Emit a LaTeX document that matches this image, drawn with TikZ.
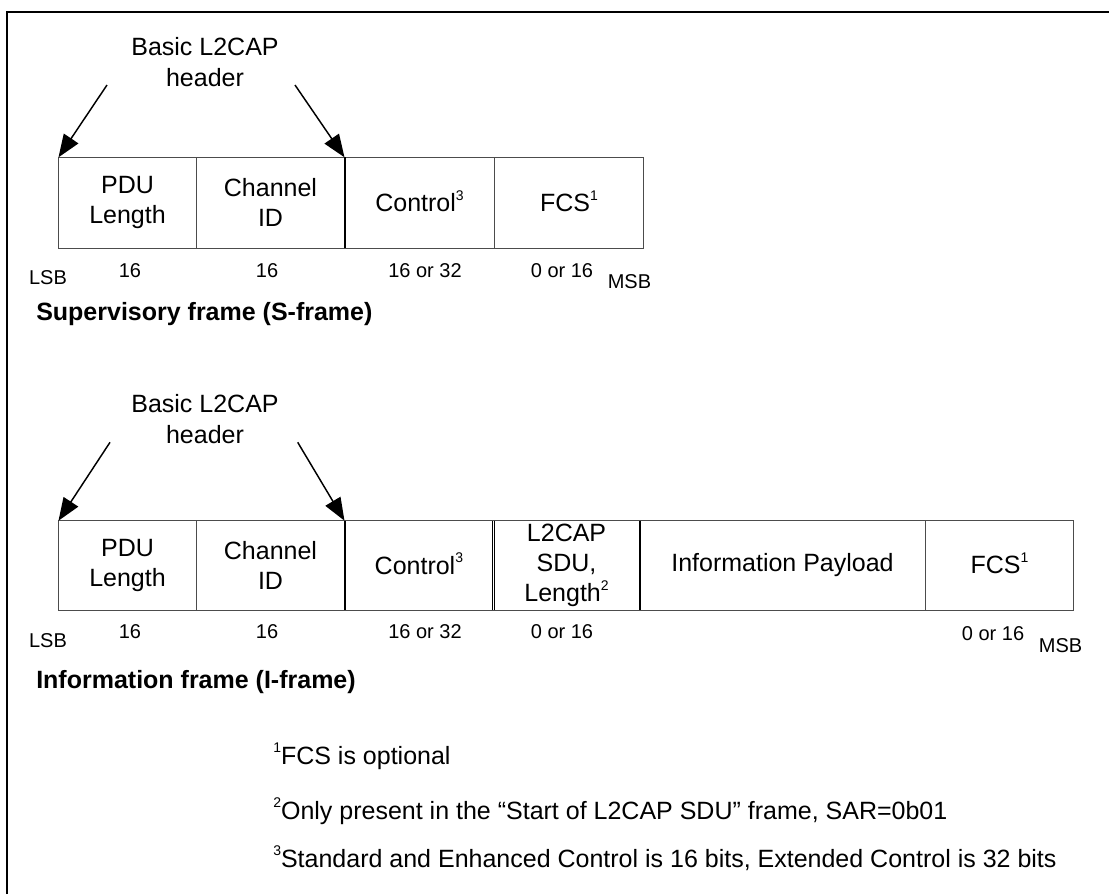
\documentclass[tikz,border=0pt]{standalone}
\usepackage{fontspec}
\setmainfont{Liberation Sans}
\usetikzlibrary{positioning, arrows.meta}
\newcommand{\fnmark}[1]{\smash{\raisebox{8.5pt}{\fontsize{10.5}{12}\selectfont #1}}}
\tikzset{
    field/.style={rectangle, draw=black!70, line width=0.75pt, inner sep=0pt, outer sep=0pt, minimum height=68.25pt, align=center, font=\fontsize{18.75}{22.5}\selectfont},
    bitlabel/.style={anchor=base, inner sep=0pt, font=\fontsize{15}{18}\selectfont},
    hdrlabel/.style={align=center, inner sep=0pt, font=\fontsize{18.75}{23.25}\selectfont},
    frametitle/.style={anchor=base west, inner sep=0pt, font=\bfseries\fontsize{18.75}{22.5}\selectfont},
    fnote/.style={anchor=base west, inner sep=0pt, font=\fontsize{18.75}{22.5}\selectfont},
    hdrarrow/.style={-{Triangle[length=17pt, width=13pt]}, line width=1.1pt},
    sepline/.style={line width=1.5pt},
}

\begin{document}
\begin{tikzpicture}[x=0.75pt, y=-0.75pt]
    \useasboundingbox (0,0) rectangle (1109,894);
    % Cornice
    \draw[line width=1.5pt] (7.3,894) -- (7.3,11.7) -- (1109,11.7);

    % S-frame
    \node[field, minimum width=103.5pt, anchor=north west] (spdu) at (58.5,157.3) {PDU\\Length};
    \node[field, minimum width=111pt, right=0pt of spdu] (scid) {Channel\\ID};
    \node[field, minimum width=112.5pt, right=0pt of scid] (sctl) {Control\fnmark{3}};
    \node[field, minimum width=111.75pt, right=0pt of sctl] (sfcs) {FCS\fnmark{1}};
    \draw[sepline] (sctl.north west) -- (sctl.south west);

    \node[hdrlabel] (shdr) at (205,62) {Basic L2CAP\\header};
    \coordinate (sa1) at (107,85);
    \coordinate (sa2) at (295,85);
    \draw[hdrarrow] (sa1) -- (spdu.north west);
    \draw[hdrarrow] (sa2) -- (sctl.north west);

    \node[bitlabel] (slsb) at (48,284) {LSB};
    \node[bitlabel] (sb1) at (130,277) {16};
    \node[bitlabel] (sb2) at (267,277) {16};
    \node[bitlabel] (sb3) at (425,277) {16 or 32};
    \node[bitlabel] (sb4) at (562,277) {0 or 16};
    \node[bitlabel] (smsb) at (629.5,288) {MSB};
    \node[frametitle] (stitle) at (36,320) {Supervisory frame (S-frame)};

    % I-frame
    \node[field, minimum height=67pt, minimum width=103.5pt, anchor=north west] (ipdu) at (58.5,520.7) {PDU\\Length};
    \node[field, minimum height=67pt, minimum width=111pt, right=0pt of ipdu] (icid) {Channel\\ID};
    \node[field, minimum height=67pt, minimum width=111.6pt, right=0pt of icid] (ictl) {Control\fnmark{3}};
    \node[field, minimum height=67pt, minimum width=109.9pt, right=0pt of ictl] (isdu) {L2CAP\\SDU,\\Length\fnmark{2}};
    \node[field, minimum height=67pt, minimum width=214pt, right=0pt of isdu] (ipay) {Information Payload};
    \node[field, minimum height=67pt, minimum width=111.5pt, right=0pt of ipay] (ifcs) {FCS\fnmark{1}};
    \draw[sepline] (ictl.north west) -- (ictl.south west);
    \draw[sepline] (ipay.north west) -- (ipay.south west);
    \draw[double, double distance=1.2pt, line width=0.6pt] (isdu.north west) -- (isdu.south west);

    \node[hdrlabel] (ihdr) at (205,419) {Basic L2CAP\\header};
    \coordinate (ia1) at (110,442.3);
    \coordinate (ia2) at (297.7,442.3);
    \draw[hdrarrow] (ia1) -- (ipdu.north west);
    \draw[hdrarrow] (ia2) -- (ictl.north west);

    \node[bitlabel] (ilsb) at (48,647) {LSB};
    \node[bitlabel] (ib1) at (130,638) {16};
    \node[bitlabel] (ib2) at (267,638) {16};
    \node[bitlabel] (ib3) at (425,638) {16 or 32};
    \node[bitlabel] (ib4) at (562,638) {0 or 16};
    \node[bitlabel] (ib5) at (993,640) {0 or 16};
    \node[bitlabel] (imsb) at (1060.5,652) {MSB};
    \node[frametitle] (ititle) at (36,688) {Information frame (I-frame)};

    % Note
    \node[fnote] (fn1) at (273,764) {\fnmark{1}FCS is optional};
    \node[fnote] (fn2) at (273,819) {\fnmark{2}Only present in the “Start of L2CAP SDU” frame, SAR=0b01};
    \node[fnote] (fn3) at (273,867) {\fnmark{3}Standard and Enhanced Control is 16 bits, Extended Control is 32 bits};
\end{tikzpicture}
\end{document}
